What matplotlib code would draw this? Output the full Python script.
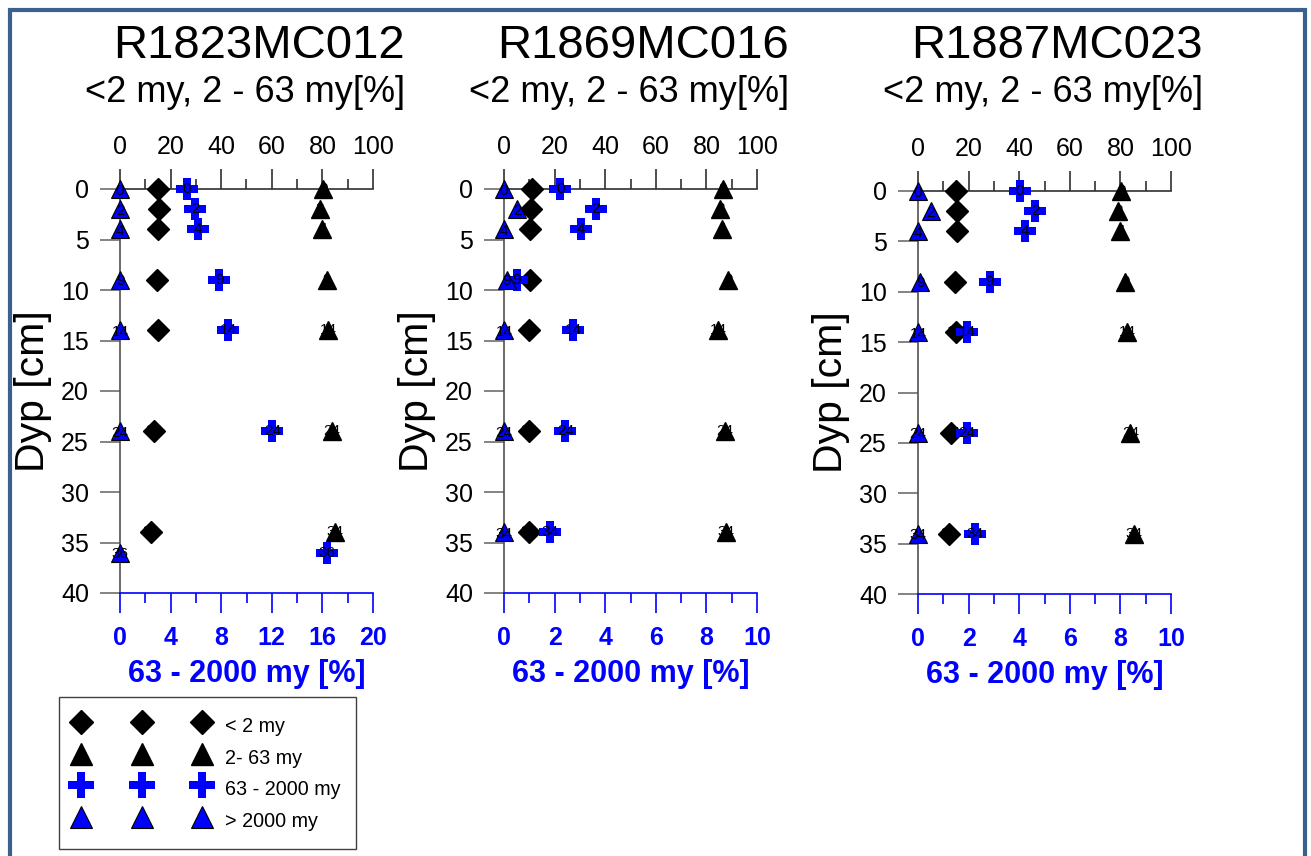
import matplotlib
matplotlib.use("Agg")
import matplotlib.pyplot as plt
from matplotlib.lines import Line2D
from matplotlib.patches import Rectangle

plt.rcParams['font.family'] = ['Liberation Sans', 'DejaVu Sans']

# ---------------- data ----------------
cores = ["R1823MC012", "R1869MC016", "R1887MC023"]
subtitle = "<2 my, 2 - 63 my[%]"

depth_fine_1 = [0, 2, 4, 9, 14, 24, 34]
depth_coarse_1 = [0, 2, 4, 9, 14, 24, 36]
clay_1 = [15.1, 15.4, 15.1, 14.7, 15.0, 13.4, 12.1]
silt_1 = [80.3, 78.9, 80.0, 81.8, 82.4, 83.8, 85.1]
sand_1 = [5.26, 5.95, 6.16, 7.84, 8.55, 12.05, 16.37]
gravel_1 = [0, 0, 0, 0, 0, 0, 0]

depth_fine_2 = [0, 2, 4, 9, 14, 24, 34]
depth_coarse_2 = [0, 2, 4, 9, 14, 24, 34]
clay_2 = [10.9, 10.7, 10.4, 10.3, 10.0, 9.9, 9.9]
silt_2 = [86.6, 85.4, 86.2, 88.6, 84.6, 87.2, 87.9]
sand_2 = [2.22, 3.63, 3.03, 0.51, 2.74, 2.43, 1.83]
gravel_2 = [0, 0.53, 0, 0.1, 0, 0, 0]

depth_fine_3 = [0, 2, 4, 9, 14, 24, 34]
depth_coarse_3 = [0, 2, 4, 9, 14, 24, 34]
clay_3 = [15.2, 15.4, 15.3, 14.8, 14.9, 13.2, 12.1]
silt_3 = [80.4, 79.1, 80.0, 81.9, 82.6, 83.9, 85.2]
sand_3 = [4.02, 4.64, 4.23, 2.83, 1.94, 1.94, 2.24]
gravel_3 = [0, 0.5, 0, 0.09, 0, 0, 0]

bottom_max = [20, 10, 10]
bottom_major = [[0, 4, 8, 12, 16, 20], [0, 2, 4, 6, 8, 10], [0, 2, 4, 6, 8, 10]]
bottom_minor = [[2, 6, 10, 14, 18], [1, 3, 5, 7, 9], [1, 3, 5, 7, 9]]
top_major = [0, 20, 40, 60, 80, 100]
top_minor = [10, 30, 50, 70, 90]
depth_ticks = [0, 5, 10, 15, 20, 25, 30, 35, 40]

legend_labels = ["< 2 my", "2- 63 my", "63 - 2000 my", "> 2000 my"]

panels = [
    (depth_fine_1, depth_coarse_1, clay_1, silt_1, sand_1, gravel_1),
    (depth_fine_2, depth_coarse_2, clay_2, silt_2, sand_2, gravel_2),
    (depth_fine_3, depth_coarse_3, clay_3, silt_3, sand_3, gravel_3),
]

# ---------------- layout ----------------
W, H = 1311, 856
fig = plt.figure(figsize=(W / 100, H / 100), dpi=100)

# pixel boxes (left, right, top, bottom)
boxes = [(120, 373, 189, 593), (504, 757, 189, 593), (918, 1171, 191, 594)]

BLUE = "#0000ff"
GRAY = "#6e6e6e"
LBL = 11

# outer border
fig.patches.append(Rectangle((10 / W, -0.02), (1305 - 10) / W, 1.02 - 10 / H,
                             transform=fig.transFigure, fill=False,
                             edgecolor="#3b5f8e", linewidth=3.0, zorder=0))

for i, (box, data) in enumerate(zip(boxes, panels)):
    l, r, t, b = box
    dfine, dcoarse, clay, silt, sand, gravel = data
    ax = fig.add_axes([l / W, 1 - b / H, (r - l) / W, (b - t) / H])
    ax.set_xlim(0, 100)
    ax.set_ylim(40, 0)
    axb = ax.twiny()
    axb.set_xlim(0, bottom_max[i])
    axb.set_ylim(40, 0)

    # spines
    ax.spines['right'].set_visible(False)
    ax.spines['bottom'].set_visible(False)
    ax.spines['top'].set_color("#303030")
    ax.spines['left'].set_color("#505050")
    ax.spines['top'].set_linewidth(1.2)
    ax.spines['left'].set_linewidth(1.2)
    for s in ['top', 'left', 'right']:
        axb.spines[s].set_visible(False)
    axb.spines['bottom'].set_visible(True)
    axb.spines['bottom'].set_color(BLUE)
    axb.spines['bottom'].set_linewidth(1.2)

    # top axis
    ax.xaxis.set_ticks_position('top')
    ax.xaxis.set_label_position('top')
    ax.set_xticks(top_major)
    ax.set_xticks(top_minor, minor=True)
    ax.tick_params(axis='x', which='major', direction='out', length=14.4, width=1.2,
                   color="#303030", labelsize=18, pad=7)
    ax.tick_params(axis='x', which='minor', direction='out', length=7.2, width=1.2,
                   color="#303030")
    # depth axis
    ax.set_yticks(depth_ticks)
    ax.tick_params(axis='y', which='major', direction='out', length=14.4, width=1.2,
                   color=GRAY, labelsize=18, pad=8)
    ax.set_ylabel("Dyp [cm]", fontsize=29.5)
    ax.yaxis.set_label_coords(-0.27, 0.5)

    # bottom axis
    axb.xaxis.set_ticks_position('bottom')
    axb.xaxis.set_label_position('bottom')
    axb.set_xticks(bottom_major[i])
    axb.set_xticks(bottom_minor[i], minor=True)
    axb.tick_params(axis='x', which='major', direction='out', length=14.4, width=1.2,
                    color=BLUE, labelsize=18, labelcolor=BLUE, pad=9.5)
    axb.tick_params(axis='x', which='minor', direction='out', length=7.2, width=1.2,
                    color=BLUE)
    for lab in axb.get_xticklabels():
        lab.set_fontweight('bold')
    axb.set_xlabel("63 - 2000 my [%]", fontsize=22, fontweight='bold', color=BLUE)
    axb.xaxis.set_label_coords(0.5, -0.164)
    axb.tick_params(axis='y', left=False, right=False, labelleft=False, labelright=False)

    # markers
    ax.plot(clay, dfine, linestyle='none', marker='D', ms=11, color='black',
            clip_on=False, zorder=3)
    ax.plot(silt, dfine, linestyle='none', marker='^', ms=13.5, color='black',
            clip_on=False, zorder=3)
    for x, d in zip(clay, dfine):
        ax.text(x, d, str(d), ha='center', va='center', fontsize=LBL, color='black',
                zorder=4, clip_on=False)
    for x, d in zip(silt, dfine):
        ax.text(x, d, str(d), ha='center', va='center', fontsize=LBL, color='black',
                zorder=4, clip_on=False)
    axb.plot(sand, dcoarse, linestyle='none', marker='P', ms=15.5, color=BLUE,
             markeredgewidth=0, clip_on=False, zorder=3)
    axb.plot(gravel, dcoarse, linestyle='none', marker='^', ms=13.5, markerfacecolor=BLUE,
             markeredgecolor='black', markeredgewidth=0.8, clip_on=False, zorder=3)
    for x, d in zip(sand, dcoarse):
        axb.text(x, d, str(d), ha='center', va='center', fontsize=LBL, color='black',
                 zorder=4, clip_on=False)
    for x, d in zip(gravel, dcoarse):
        axb.text(x, d + 0.15, str(d), ha='center', va='center', fontsize=LBL, color='black',
                 zorder=4, clip_on=False)

    # titles
    fig.text((r + 32) / W, 1 - 46 / H, cores[i], ha='right', va='center', fontsize=34)
    fig.text((r + 32) / W, 1 - 93 / H, subtitle, ha='right', va='center', fontsize=26)

# legend
handles = [
    Line2D([], [], linestyle='none', marker='D', ms=12.7, color='black'),
    Line2D([], [], linestyle='none', marker='^', ms=16, color='black'),
    Line2D([], [], linestyle='none', marker='P', ms=18.5, color=BLUE, markeredgewidth=0),
    Line2D([], [], linestyle='none', marker='^', ms=16, markerfacecolor=BLUE,
           markeredgecolor='black', markeredgewidth=0.8),
]
leg = fig.legend(handles, legend_labels, loc='upper left',
                 bbox_to_anchor=(59 / W, 1 - 697 / H), numpoints=3, handlelength=6.77,
                 handleheight=1.62, handletextpad=0.85, fontsize=14.2, labelspacing=0.3,
                 borderpad=0.8, borderaxespad=0, frameon=True, fancybox=False,
                 framealpha=1)
leg.get_frame().set_edgecolor("#404040")
leg.get_frame().set_linewidth(1.0)

fig.savefig("out.png", dpi=100)
